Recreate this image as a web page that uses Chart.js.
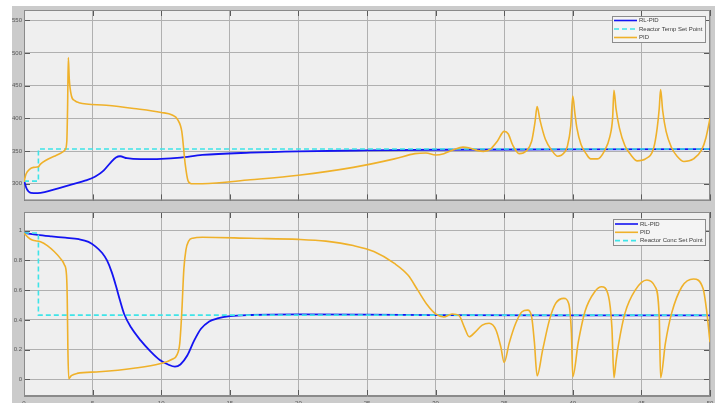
<!DOCTYPE html>
<html>
<head>
<meta charset="utf-8">
<script src="https://cdn.jsdelivr.net/npm/chart.js@4.4.1/dist/chart.umd.min.js"></script>
<style>
  html, body { margin: 0; padding: 0; background: #ffffff; width: 723px; height: 403px; overflow: hidden; }
  #panel { position: absolute; left: 12px; top: 6px; width: 703px; height: 397px; background: #cbcbcb; }
  canvas { position: absolute; left: 0; }
  #temp { top: 0; }
  #conc { top: 206px; }
</style>
</head>
<body>
<div id="panel"></div>
<canvas id="temp" width="723" height="206"></canvas>
<canvas id="conc" width="723" height="197"></canvas>
<script>
// ---- Reactor temperature (top panel) ----
const tempRlTime = [0, 0.2, 0.5, 1.0, 1.5, 2.5, 3.5, 4.5, 5.2, 5.8, 6.3, 6.7, 7.0, 7.5, 8.5, 10, 11.4, 13, 16.5, 20, 25, 30, 40, 50];
const tempRlVal  = [305, 292, 286, 285.5, 287, 293, 299, 305, 311, 320, 332, 340, 342, 339, 337.5, 338, 340, 344, 347.5, 349.5, 351, 352, 352.5, 353];

const tempSpTime = [0, 1.05, 1.05, 50];
const tempSpVal  = [304, 304, 353, 353];

const tempPidTime = [0, 0.15, 0.4, 0.7, 1.05, 1.2, 1.6, 2.2, 2.7, 3.0, 3.12, 3.18, 3.23, 3.3, 3.45, 3.7, 4.0, 6, 8, 10, 10.8, 11.2, 11.5, 11.75, 11.95, 12.2, 13, 16.5, 20, 24, 27, 28.5, 29.3, 30.0, 30.6, 31.3, 32.0, 32.4, 33.0, 33.5, 34.0, 34.5, 35.0, 35.3, 35.6, 36.1, 36.6, 37.0, 37.25, 37.4, 37.6, 38.0, 38.5, 38.9, 39.4, 39.6, 39.85, 40.0, 40.15, 40.3, 40.6, 41.0, 41.3, 41.8, 42.3, 42.7, 42.9, 43.0, 43.15, 43.4, 43.8, 44.2, 44.7, 45.3, 45.9, 46.15, 46.3, 46.4, 46.55, 46.8, 47.2, 47.6, 48.1, 48.8, 49.4, 49.7, 50];
const tempPidVal  = [303, 315, 322, 325, 326, 330, 336, 342, 347, 352, 365, 420, 493, 460, 435, 427, 424, 420, 415, 409, 405, 398, 380, 330, 305, 300, 300, 306, 313, 325, 338, 346, 347, 344, 346, 352, 356, 355, 351, 349.5, 353, 365, 380, 376, 360, 346, 350, 365, 395, 418, 398, 368, 350, 342, 348, 357, 388, 434, 408, 385, 360, 345, 338, 338, 350, 372, 400, 443, 415, 385, 358, 345, 335, 338, 355, 385, 415, 444, 412, 380, 355, 342, 334, 338, 352, 370, 400];

// ---- Reactor concentration (bottom panel) ----
const concRlTime = [0, 1, 2, 3, 4, 4.7, 5.2, 5.7, 6.05, 6.4, 6.7, 7.0, 7.3, 7.8, 8.5, 9.2, 9.9, 10.5, 11.0, 11.4, 11.9, 12.4, 12.9, 13.5, 14.1, 15, 16.5, 20, 25, 30, 40, 50];
const concRlVal  = [0.985, 0.972, 0.962, 0.953, 0.943, 0.925, 0.895, 0.85, 0.80, 0.72, 0.63, 0.53, 0.44, 0.35, 0.262, 0.19, 0.13, 0.10, 0.085, 0.10, 0.16, 0.26, 0.34, 0.39, 0.41, 0.425, 0.433, 0.437, 0.436, 0.432, 0.43, 0.43];

const concSpTime = [0, 1.05, 1.05, 50];
const concSpVal  = [0.985, 0.985, 0.432, 0.432];

const concPidTime = [0, 0.3, 0.6, 1.2, 1.7, 2.2, 2.65, 2.95, 3.1, 3.15, 3.2, 3.26, 3.45, 3.87, 5.5, 8, 9.9, 10.8, 11.15, 11.35, 11.5, 11.65, 11.8, 12.0, 12.3, 13, 16.5, 20, 22, 24, 25.5, 27, 28, 28.7, 29.4, 30.0, 30.6, 31.2, 31.7, 32.1, 32.45, 32.9, 33.4, 33.9, 34.4, 34.75, 35.0, 35.36, 35.84, 36.3, 36.7, 37.0, 37.2, 37.4, 37.8, 38.3, 38.75, 39.35, 39.7, 39.9, 40.0, 40.4, 40.9, 41.6, 42.1, 42.6, 42.85, 43.0, 43.15, 43.35, 43.8, 44.55, 45.4, 46.0, 46.3, 46.4, 46.75, 47.2, 47.95, 48.8, 49.5, 49.75, 50];
const concPidVal  = [0.985, 0.955, 0.937, 0.926, 0.90, 0.86, 0.814, 0.77, 0.70, 0.55, 0.2, 0.005, 0.025, 0.04, 0.051, 0.075, 0.105, 0.135, 0.165, 0.24, 0.45, 0.74, 0.87, 0.93, 0.95, 0.956, 0.949, 0.942, 0.93, 0.90, 0.86, 0.78, 0.70, 0.60, 0.50, 0.44, 0.42, 0.44, 0.43, 0.35, 0.287, 0.32, 0.365, 0.377, 0.332, 0.22, 0.114, 0.242, 0.377, 0.455, 0.466, 0.42, 0.25, 0.024, 0.197, 0.40, 0.511, 0.545, 0.511, 0.31, 0.018, 0.25, 0.46, 0.59, 0.623, 0.56, 0.35, 0.011, 0.12, 0.244, 0.444, 0.60, 0.668, 0.623, 0.42, 0.011, 0.244, 0.444, 0.623, 0.675, 0.61, 0.466, 0.25];

const timeTicks = [0, 5, 10, 15, 20, 25, 30, 35, 40, 45, 50];
const tempTicks = [300, 350, 400, 450, 500, 550];
const concTicks = [0, 0.2, 0.4, 0.6, 0.8, 1];

const BLUE = '#1414f2';
const CYAN = '#3ee4e8';
const ORANGE = '#efb12a';

const pts = (xs, ys) => xs.map((x, i) => ({ x, y: ys[i] }));

// Plot background, outer box and inward tick marks
const framePlugin = {
  id: 'frame',
  beforeDraw(chart) {
    const a = chart.chartArea, ctx = chart.ctx;
    ctx.save();
    ctx.fillStyle = '#efefef';
    ctx.fillRect(a.left, a.top, a.right - a.left, a.bottom - a.top);
    ctx.restore();
  },
  beforeDatasetsDraw(chart) {
    const a = chart.chartArea, ctx = chart.ctx;
    const xs = chart.scales.x, ys = chart.scales.y;
    const len = 6;
    ctx.save();
    ctx.strokeStyle = '#5a5a5a';
    ctx.lineWidth = 1;
    ctx.beginPath();
    xs.ticks.forEach(t => {
      const px = Math.round(xs.getPixelForValue(t.value)) + 0.5;
      ctx.moveTo(px, a.bottom); ctx.lineTo(px, a.bottom - len);
      ctx.moveTo(px, a.top); ctx.lineTo(px, a.top + len);
    });
    ys.ticks.forEach(t => {
      const py = Math.round(ys.getPixelForValue(t.value)) + 0.5;
      ctx.moveTo(a.left, py); ctx.lineTo(a.left + len, py);
      ctx.moveTo(a.right, py); ctx.lineTo(a.right - len, py);
    });
    ctx.stroke();
    ctx.strokeStyle = '#8a8a8a';
    ctx.strokeRect(a.left + 0.5, a.top + 0.5, a.right - a.left - 1, a.bottom - a.top - 1);
    ctx.restore();
  }
};

// Boxed legend drawn from the datasets' own labels and styles
const boxLegendPlugin = {
  id: 'boxLegend',
  afterDraw(chart, args, opts) {
    const ctx = chart.ctx;
    const [bx, by, bw, bh] = opts.box;
    ctx.save();
    ctx.fillStyle = '#f4f4f4';
    ctx.fillRect(bx, by, bw, bh);
    ctx.strokeStyle = '#8c8c8c';
    ctx.lineWidth = 1;
    ctx.strokeRect(bx + 0.5, by + 0.5, bw, bh);
    ctx.font = '6px "Liberation Sans", Arial, sans-serif';
    ctx.textBaseline = 'middle';
    opts.order.forEach((idx, row) => {
      const ds = chart.data.datasets[idx];
      const y = by + opts.firstRow + row * opts.rowGap;
      ctx.strokeStyle = ds.borderColor;
      ctx.lineWidth = 1.6;
      ctx.setLineDash(ds.borderDash || []);
      ctx.beginPath();
      ctx.moveTo(bx + 2, y);
      ctx.lineTo(bx + 25, y);
      ctx.stroke();
      ctx.setLineDash([]);
      ctx.fillStyle = '#3a3a3a';
      const tx = bx + 27;
      ctx.fillText(ds.label, tx, y, bx + bw - 2 - tx);
    });
    ctx.restore();
  }
};

function yAxis(min, max, ticks) {
  return {
    type: 'linear', min, max,
    afterBuildTicks(s) { s.ticks = ticks.map(v => ({ value: v })); },
    afterFit(s) { s.width = 24; },
    grid: { color: '#b0b0b0', drawTicks: false },
    border: { color: '#8a8a8a' },
    ticks: {
      font: { size: 6, family: '"Liberation Sans", Arial, sans-serif' },
      color: '#555555', padding: 2,
      callback: v => String(v)
    }
  };
}

function xAxis(showLabels, height) {
  return {
    type: 'linear', min: 0, max: 50,
    afterBuildTicks(s) { s.ticks = timeTicks.map(v => ({ value: v })); },
    afterFit(s) { s.height = height; },
    grid: { color: '#b0b0b0', drawTicks: false },
    border: { color: '#8a8a8a' },
    ticks: {
      display: showLabels,
      font: { size: 6, family: '"Liberation Sans", Arial, sans-serif' },
      color: '#555555', padding: 4, maxRotation: 0,
      callback: v => String(v)
    }
  };
}

function lineSet(label, xs, ys, color, order, extra) {
  return Object.assign({
    label, data: pts(xs, ys), borderColor: color, backgroundColor: color,
    borderWidth: 1.6, pointRadius: 0, fill: false, showLine: true,
    cubicInterpolationMode: 'monotone', order
  }, extra || {});
}

const common = {
  responsive: false, animation: false, devicePixelRatio: 1,
  plugins: { legend: { display: false }, tooltip: { enabled: false } }
};

new Chart(document.getElementById('temp'), {
  type: 'scatter',
  data: {
    datasets: [
      lineSet('RL-PID', tempRlTime, tempRlVal, BLUE, 2, { borderWidth: 1.8 }),
      lineSet('Reactor Temp Set Point', tempSpTime, tempSpVal, CYAN, 1, { borderDash: [5, 3], cubicInterpolationMode: 'default', tension: 0 }),
      lineSet('PID', tempPidTime, tempPidVal, ORANGE, 0)
    ]
  },
  options: Object.assign({}, common, {
    layout: { padding: { top: 10, right: 13, left: 0, bottom: 0 } },
    scales: { x: xAxis(false, 5), y: yAxis(274.5, 565.7, tempTicks) },
    plugins: Object.assign({}, common.plugins, {
      boxLegend: { box: [612, 16, 93, 26], order: [0, 1, 2], firstRow: 4.5, rowGap: 8.5 }
    })
  }),
  plugins: [framePlugin, boxLegendPlugin]
});

new Chart(document.getElementById('conc'), {
  type: 'scatter',
  data: {
    datasets: [
      lineSet('RL-PID', concRlTime, concRlVal, BLUE, 2, { borderWidth: 1.8 }),
      lineSet('PID', concPidTime, concPidVal, ORANGE, 0),
      lineSet('Reactor Conc Set Point', concSpTime, concSpVal, CYAN, 1, { borderDash: [5, 3], cubicInterpolationMode: 'default', tension: 0 })
    ]
  },
  options: Object.assign({}, common, {
    layout: { padding: { top: 6, right: 13, left: 0, bottom: 0 } },
    scales: { x: xAxis(true, 7), y: yAxis(-0.112, 1.126, concTicks) },
    plugins: Object.assign({}, common.plugins, {
      boxLegend: { box: [613, 13, 92, 26], order: [0, 1, 2], firstRow: 5, rowGap: 8.3 }
    })
  }),
  plugins: [framePlugin, boxLegendPlugin]
});
</script>
</body>
</html>
